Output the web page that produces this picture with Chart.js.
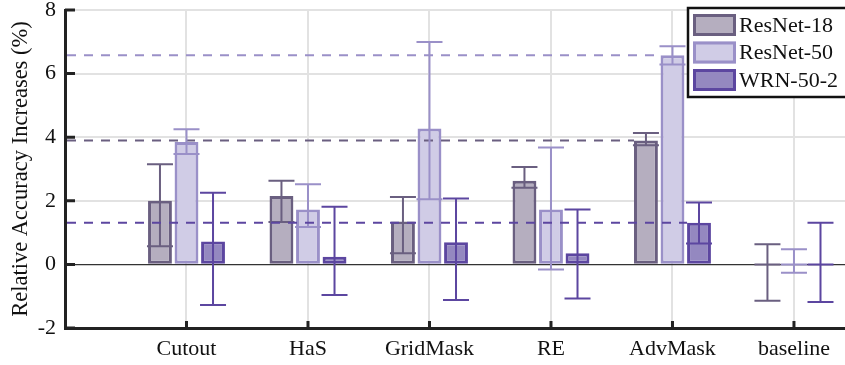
<!DOCTYPE html>
<html>
<head>
<meta charset="utf-8">
<script src="https://cdn.jsdelivr.net/npm/chart.js@4.4.1/dist/chart.umd.min.js"></script>
<style>
  html, body { margin: 0; padding: 0; background: #fff; overflow: hidden; }
  #wrap { width: 845px; height: 365px; }
</style>
</head>
<body>
<div id="wrap"><canvas id="chart"></canvas></div>
<script>
// data
const methods = ['Cutout', 'HaS', 'GridMask', 'RE', 'AdvMask', 'baseline'];

const resnet18     = [2.00, 2.15, 1.35, 2.63, 3.90, 0];
const resnet18Low  = [0.57, 1.33, 0.35, 2.41, 3.75, -1.14];
const resnet18High = [3.15, 2.63, 2.12, 3.06, 4.13, 0.63];

const resnet50     = [3.85, 1.73, 4.27, 1.73, 6.58, 0];
const resnet50Low  = [3.47, 1.18, 2.05, -0.16, 6.29, -0.26];
const resnet50High = [4.25, 2.52, 6.99, 3.68, 6.86, 0.48];

const wrn502     = [0.72, 0.24, 0.70, 0.35, 1.31, 0];
const wrn502Low  = [-1.28, -0.96, -1.12, -1.07, 0.66, -1.18];
const wrn502High = [2.25, 1.81, 2.07, 1.73, 1.95, 1.31];

const yTicks = [-2, 0, 2, 4, 6, 8];

const FONT = "'Liberation Serif', 'Times New Roman', serif";

function pts(vals) {
    return vals.map((v, i) => ({ x: i + 1, y: v }));
}

// error bars + reference dashed lines
const errorBars = {
    id: 'errorBars',
    afterDatasetsDraw(chart) {
        const ctx = chart.ctx;
        const y = chart.scales.y;
        const area = chart.chartArea;
        ctx.save();
        chart.data.datasets.forEach((ds, i) => {
            const meta = chart.getDatasetMeta(i);
            ctx.strokeStyle = ds.borderColor;
            ctx.lineWidth = 2;
            ctx.setLineDash([]);
            meta.data.forEach((bar, j) => {
                const lo = y.getPixelForValue(ds.low[j]);
                const hi = y.getPixelForValue(ds.high[j]);
                ctx.beginPath();
                ctx.moveTo(bar.x, lo); ctx.lineTo(bar.x, hi);
                ctx.moveTo(bar.x - 13, lo); ctx.lineTo(bar.x + 13, lo);
                ctx.moveTo(bar.x - 13, hi); ctx.lineTo(bar.x + 13, hi);
                if (ds.data[j].y === 0) {
                    const m = y.getPixelForValue(0);
                    ctx.moveTo(bar.x - 13, m); ctx.lineTo(bar.x + 13, m);
                }
                ctx.stroke();
            });
            // dashed line from the axis to the AdvMask bar
            const adv = meta.data[4];
            const yy = y.getPixelForValue(ds.data[4].y);
            ctx.setLineDash([9, 8]);
            ctx.beginPath();
            ctx.moveTo(area.left + 2, yy);
            ctx.lineTo(adv.x - adv.width / 2, yy);
            ctx.stroke();
        });
        ctx.restore();
    }
};

// small inward tick marks
const innerTicks = {
    id: 'innerTicks',
    beforeDatasetsDraw(chart) {
        const ctx = chart.ctx;
        const { x, y } = chart.scales;
        const area = chart.chartArea;
        ctx.save();
        ctx.strokeStyle = '#222';
        ctx.lineWidth = 3;
        ctx.beginPath();
        yTicks.forEach(v => {
            const py = y.getPixelForValue(v);
            ctx.moveTo(area.left, py); ctx.lineTo(area.left + 10, py);
        });
        methods.forEach((m, i) => {
            const px = x.getPixelForValue(i + 1);
            ctx.moveTo(px, area.bottom); ctx.lineTo(px, area.bottom - 7);
        });
        ctx.stroke();
        ctx.restore();
    }
};

// legend box in the top right corner
const boxLegend = {
    id: 'boxLegend',
    afterDraw(chart) {
        const ctx = chart.ctx;
        const left = 688, top = 8;
        ctx.save();
        ctx.fillStyle = '#fff';
        ctx.fillRect(left, top, chart.width - left + 5, 89);
        ctx.strokeStyle = '#111';
        ctx.lineWidth = 2.5;
        ctx.strokeRect(left, top, chart.width - left + 5, 89);
        ctx.font = '22px ' + FONT;
        ctx.textBaseline = 'middle';
        chart.data.datasets.forEach((ds, i) => {
            const sy = top + 6 + i * 27.5;
            ctx.fillStyle = ds.backgroundColor;
            ctx.fillRect(left + 5, sy, 43, 22);
            ctx.strokeStyle = ds.borderColor;
            ctx.lineWidth = 3;
            ctx.strokeRect(left + 6.5, sy + 1.5, 40, 19);
            ctx.fillStyle = '#111';
            ctx.fillText(ds.label, left + 51, sy + 12);
        });
        ctx.restore();
    }
};

const chart = document.querySelector('#chart').getContext('2d');

new Chart(chart, {
    type: 'bar',
    data: {
        datasets: [
            {
                label: 'ResNet-18',
                data: pts(resnet18),
                low: resnet18Low,
                high: resnet18High,
                backgroundColor: '#b5aebf',
                borderColor: '#6a5f80',
                borderWidth: 3
            },
            {
                label: 'ResNet-50',
                data: pts(resnet50),
                low: resnet50Low,
                high: resnet50High,
                backgroundColor: '#d0cce6',
                borderColor: '#9a90c8',
                borderWidth: 3
            },
            {
                label: 'WRN-50-2',
                data: pts(wrn502),
                low: wrn502Low,
                high: wrn502High,
                backgroundColor: '#9488c0',
                borderColor: '#5c46a0',
                borderWidth: 3
            }
        ]
    },
    options: {
        responsive: true,
        maintainAspectRatio: false,
        animation: false,
        layout: { padding: { top: 10, right: 0, left: 0, bottom: 0 } },
        datasets: {
            bar: {
                categoryPercentage: 0.655,
                barPercentage: 0.9,
                borderSkipped: false
            }
        },
        plugins: {
            legend: { display: false },
            tooltip: { enabled: false }
        },
        scales: {
            x: {
                type: 'linear',
                offset: false,
                min: 0,
                max: 6.42,
                afterBuildTicks: s => { s.ticks = s.ticks.filter(t => Number.isInteger(t.value)); },
                afterFit: s => { s.height = 37; },
                ticks: {
                    stepSize: 1,
                    includeBounds: false,
                    autoSkip: false,
                    maxRotation: 0,
                    padding: 8,
                    color: '#111',
                    font: { family: FONT, size: 22 },
                    callback: v => methods[v - 1] || ''
                },
                grid: {
                    offset: false,
                    drawTicks: false,
                    lineWidth: 2,
                    color: c => (c.tick && c.tick.value >= 1 && c.tick.value <= 6) ? '#e2e2e2' : 'rgba(0,0,0,0)'
                },
                border: { color: '#222', width: 3 }
            },
            y: {
                min: -2,
                max: 8,
                afterFit: s => { s.width = 65; s.paddingTop = 0; s.paddingBottom = 0; },
                ticks: {
                    stepSize: 2,
                    padding: 9,
                    color: '#111',
                    font: { family: FONT, size: 22, lineHeight: 0.9 }
                },
                grid: {
                    drawTicks: false,
                    lineWidth: c => c.tick.value === 0 ? 1.2 : 2,
                    color: c => c.tick.value === 0 ? '#333' : '#e2e2e2'
                },
                border: { color: '#222', width: 3 },
                title: {
                    display: true,
                    text: 'Relative Accuracy Increases (%)',
                    color: '#111',
                    font: { family: FONT, size: 22.5 },
                    padding: { top: 8, bottom: 0 }
                }
            }
        }
    },
    plugins: [innerTicks, errorBars, boxLegend]
});
</script>
</body>
</html>
